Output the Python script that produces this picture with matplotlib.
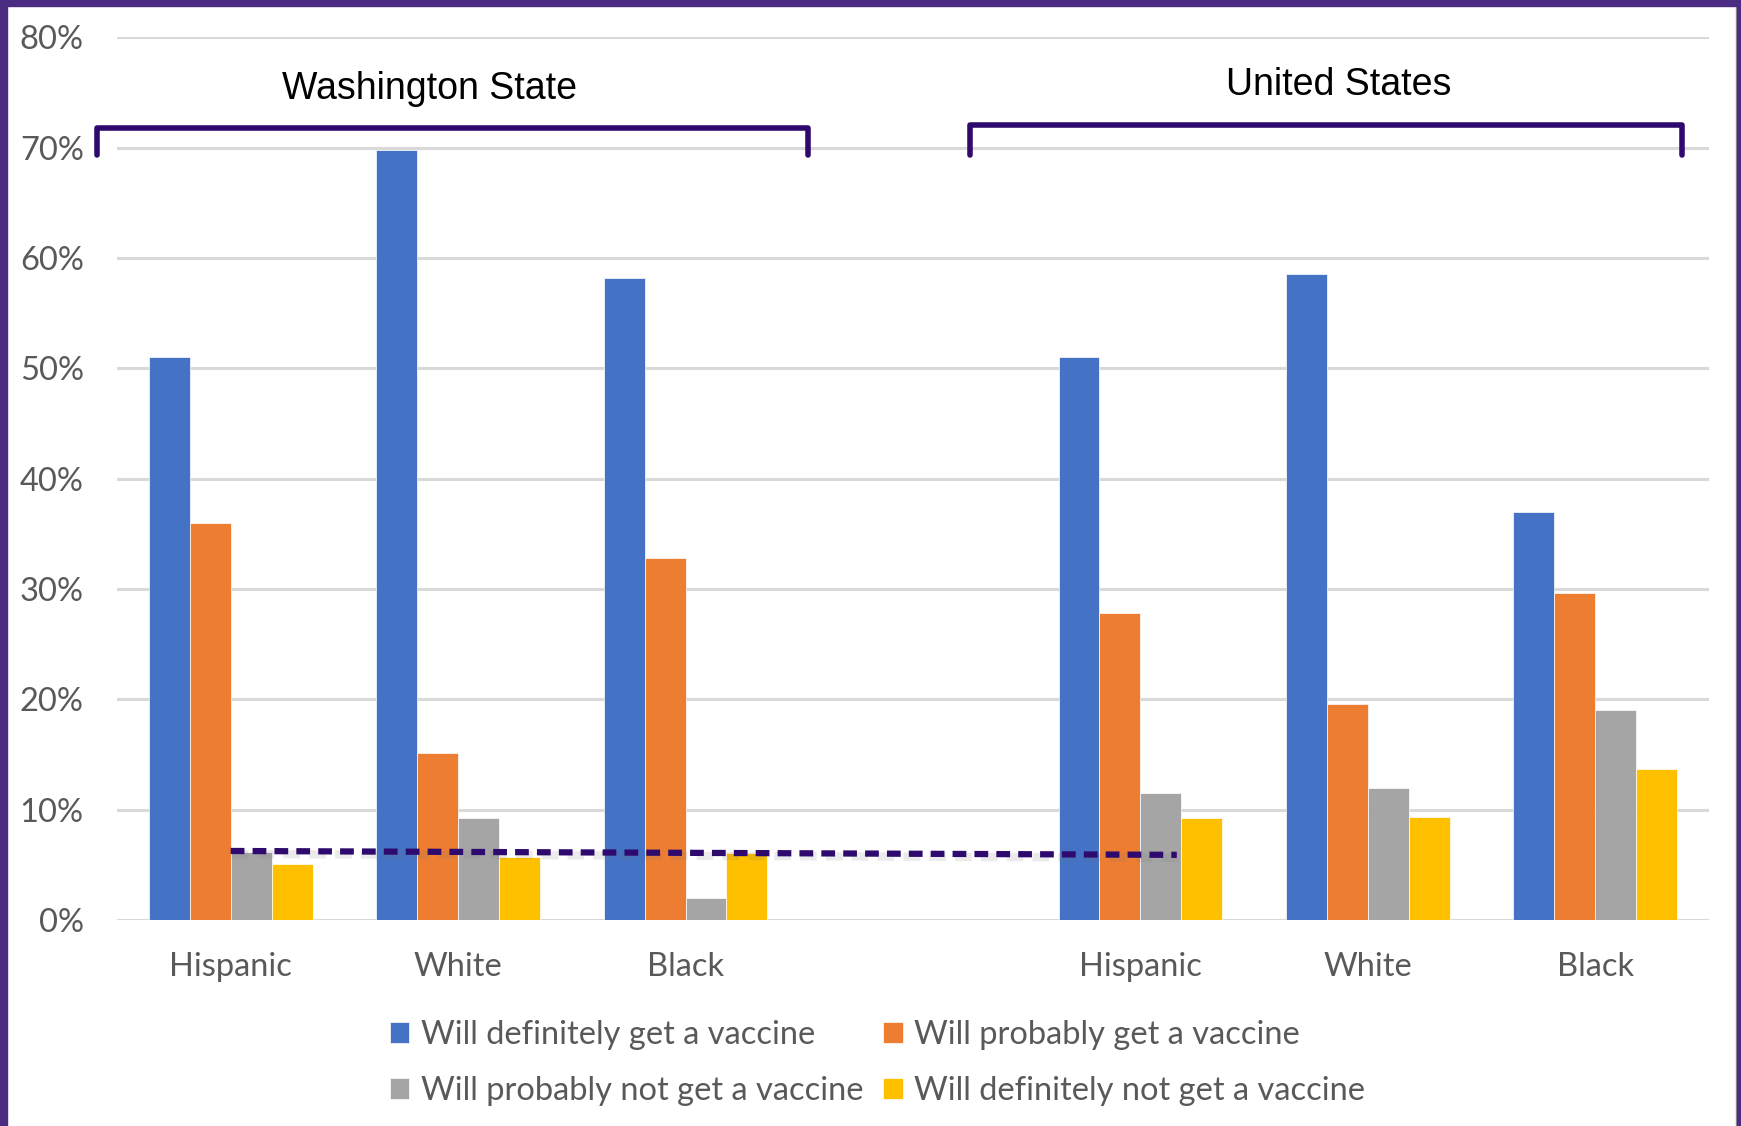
import matplotlib
matplotlib.use("Agg")
import matplotlib.pyplot as plt
from matplotlib.patches import Rectangle
import matplotlib.transforms as mtransforms
import numpy as np

categories = ["Hispanic", "White", "Black", "", "Hispanic", "White", "Black"]
series_names = ["Will definitely get a vaccine", "Will probably get a vaccine",
                "Will probably not get a vaccine", "Will definitely not get a vaccine"]
definitely_get = [51.0, 69.8, 58.2, np.nan, 51.0, 58.5, 37.0]
probably_get = [36.0, 15.1, 32.8, np.nan, 27.8, 19.6, 29.6]
probably_not = [6.2, 9.2, 2.0, np.nan, 11.5, 12.0, 19.0]
definitely_not = [5.1, 5.7, 6.1, np.nan, 9.2, 9.3, 13.7]
colors = ["#4472C4", "#ED7D31", "#A5A5A5", "#FFC000"]
yticks = [0, 10, 20, 30, 40, 50, 60, 70, 80]
group_labels = ["Washington State", "United States"]

purple = "#4B2C82"
dark_purple = "#2E0A6E"
label_font = ["Lato", "DejaVu Sans"]
title_font = ["Liberation Sans", "DejaVu Sans"]

fig = plt.figure(figsize=(17.41, 11.26), dpi=100)
ax = fig.add_axes([0.0672, 0.183, 0.9144, 0.784])

x = np.arange(len(categories))
w = 0.18
all_series = [definitely_get, probably_get, probably_not, definitely_not]
handles = []
for i, (vals, c, name) in enumerate(zip(all_series, colors, series_names)):
    b = ax.bar(x + (i - 1.5) * w, vals, width=w, color=c, label=name, zorder=3,
               edgecolor="white", linewidth=0.5)
    handles.append(b)

ax.set_xlim(-0.5, 6.5)
ax.set_ylim(0, 80)
ax.set_yticks(yticks)
ax.set_yticklabels([f"{t}%" for t in yticks], fontfamily=label_font, fontsize=23.5, color="#595959")
ax.set_xticks(x)
ax.set_xticklabels(categories, fontfamily=label_font, fontsize=23.5, color="#595959")
ax.tick_params(axis="both", length=0)
ax.tick_params(axis="y", pad=24)
ax.tick_params(axis="x", pad=23)
ax.grid(axis="y", color="#D9D9D9", linewidth=2.2, zorder=0)
for s in ax.spines.values():
    s.set_visible(False)

# dashed reference line with soft shadow
shadow = ax.transData + mtransforms.ScaledTranslation(1/100, -3/100, fig.dpi_scale_trans)
ax.plot([0.0, 4.16], [6.25, 5.9], color="#777777", lw=6, ls=(0, (2.0, 1.1)),
        alpha=0.14, zorder=4, transform=shadow)
ax.plot([0.0, 4.16], [6.25, 5.9], color=dark_purple, lw=4.5, ls=(0, (2.2, 1.3)), zorder=5)

# brackets
def bracket(x0, x1, ytop, ybot):
    ax.plot([x0, x0, x1, x1], [ybot, ytop, ytop, ybot], color=dark_purple, lw=4,
            solid_joinstyle="round", solid_capstyle="round", clip_on=False, zorder=6)

bracket(-0.586, 2.54, 71.8, 69.3)
bracket(3.25, 6.38, 72.0, 69.3)
ax.text(0.875, 75.3, group_labels[0], ha="center", va="center", fontsize=27,
        fontfamily=title_font, color="black")
ax.text(4.87, 75.7, group_labels[1], ha="center", va="center", fontsize=27,
        fontfamily=title_font, color="black")

order = [0, 2, 1, 3]
leg = fig.legend([handles[i] for i in order], [series_names[i] for i in order],
                 loc="center", bbox_to_anchor=(0.504, 0.056), ncol=2, frameon=False,
                 prop={"family": label_font, "size": 23.5}, labelcolor="#595959",
                 handlelength=0.6, handleheight=0.6, handletextpad=0.35,
                 columnspacing=0.6, labelspacing=0.8)

# purple frame: left, top, right
fig.patches.append(Rectangle((0, 0), 7/1741, 1, transform=fig.transFigure, color=purple, zorder=10))
fig.patches.append(Rectangle((0, 1 - 6/1126), 1, 6/1126, transform=fig.transFigure, color=purple, zorder=10))
fig.patches.append(Rectangle((1 - 4/1741, 0), 4/1741, 1, transform=fig.transFigure, color=purple, zorder=10))
fig.patches.append(Rectangle((1 - 5/1741, 0), 1.5/1741, 1 - 6/1126, transform=fig.transFigure, color="#9A9A9A", zorder=9))

fig.savefig("out.png", dpi=100, facecolor="white")
